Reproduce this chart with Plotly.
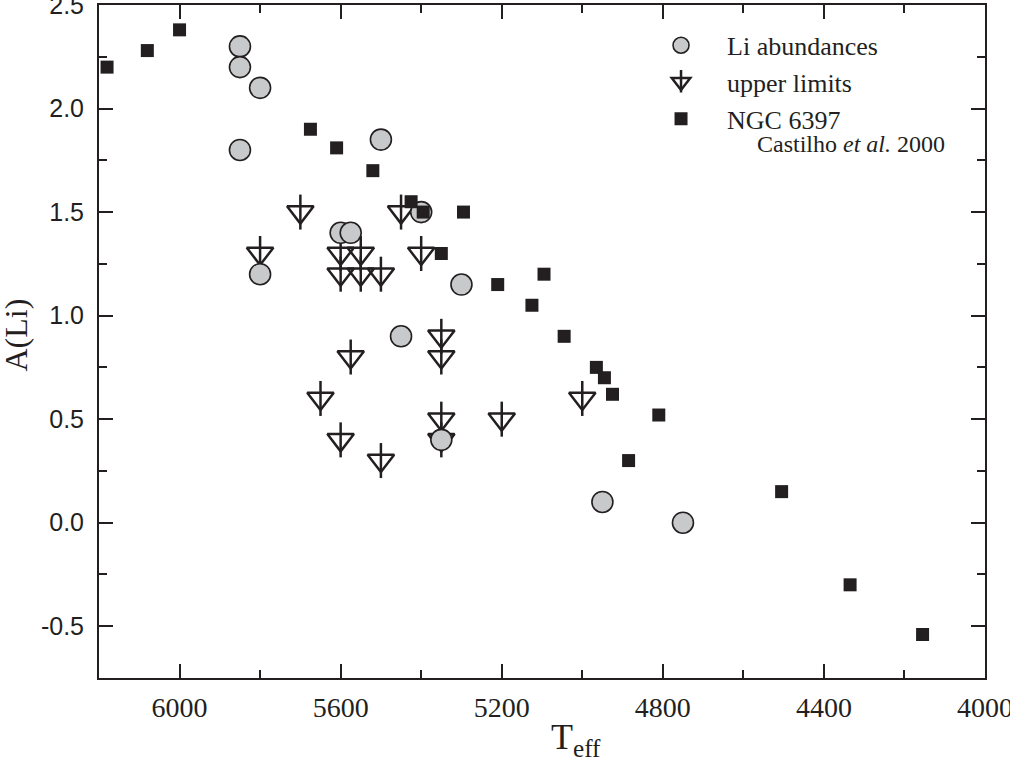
import plotly.graph_objects as go

# ---- data ----
li_T = [5850, 5850, 5800, 5850, 5800, 5600, 5575, 5500, 5400, 5450, 5300, 5350, 4950, 4750]
li_A = [2.30, 2.20, 2.10, 1.80, 1.20, 1.40, 1.40, 1.85, 1.50, 0.90, 1.15, 0.40, 0.10, 0.00]

lim_T = [5700, 5450, 5800, 5600, 5550, 5400, 5600, 5550, 5500, 5350, 5350, 5575,
         5650, 5600, 5500, 5350, 5350, 5200, 5000]
lim_A = [1.5, 1.5, 1.3, 1.3, 1.3, 1.3, 1.2, 1.2, 1.2, 0.9, 0.8, 0.8,
         0.6, 0.4, 0.3, 0.5, 0.4, 0.5, 0.6]

ngc_T = [6180, 6080, 6000, 5675, 5610, 5520, 5425, 5395, 5295, 5350, 5210, 5125,
         5095, 5045, 4965, 4945, 4925, 4885, 4810, 4505, 4335, 4155]
ngc_A = [2.20, 2.28, 2.38, 1.90, 1.81, 1.70, 1.55, 1.50, 1.50, 1.30, 1.15, 1.05,
         1.20, 0.90, 0.75, 0.70, 0.62, 0.30, 0.52, 0.15, -0.30, -0.54]

y_tickvals = [-0.5, 0.0, 0.5, 1.0, 1.5, 2.0, 2.5]
y_ticktext = ["-0.5", "0.0", "0.5", "1.0", "1.5", "2.0", "2.5"]
x_tickvals = [6000, 5600, 5200, 4800, 4400, 4000]

INK = "#231f20"
SERIF = "Liberation Serif, Times New Roman, serif"
SANS = "Liberation Sans, Arial, sans-serif"

LEG_X = 0.605
LEG_Y = 0.975
LEG_ITEMW = 82
LEG_FONT = 26

fig = go.Figure()

# upper limits: open down-triangle + vertical stem
fig.add_trace(go.Scatter(
    x=lim_T, y=lim_A, mode="markers", name="upper limits", legendrank=2,
    marker=dict(symbol="triangle-down-open", size=23, color=INK, line=dict(width=2.5, color=INK)),
))
fig.add_trace(go.Scatter(
    x=lim_T, y=lim_A, mode="markers", name=" ", legend="legend2", hoverinfo="skip",
    marker=dict(symbol="line-ns-open", size=25, color=INK, line=dict(width=2.5, color=INK)),
))
# Li abundances
fig.add_trace(go.Scatter(
    x=li_T, y=li_A, mode="markers", name="Li abundances", legendrank=1,
    marker=dict(symbol="circle", size=21, color="#c8c9cb", line=dict(width=1.6, color=INK)),
))
# NGC 6397
fig.add_trace(go.Scatter(
    x=ngc_T, y=ngc_A, mode="markers", name="NGC 6397", legendrank=3,
    marker=dict(symbol="square", size=13, color=INK, line=dict(width=0)),
))

axis_common = dict(
    showline=True, linewidth=2, linecolor=INK, mirror="allticks",
    ticks="inside", ticklen=14, tickwidth=2, tickcolor=INK,
    showgrid=False, zeroline=False, ticklabeloverflow="allow", automargin=False,
)

fig.update_xaxes(
    range=[6200, 4000], tickmode="array", tickvals=x_tickvals,
    tickfont=dict(family=SERIF, size=28, color=INK),
    minor=dict(tickmode="linear", tick0=0, dtick=200, ticks="inside", ticklen=8, tickwidth=2, tickcolor=INK),
    ticklabelstandoff=3,
    **axis_common,
)
fig.update_yaxes(
    range=[-0.75, 2.5], tickmode="array", tickvals=y_tickvals, ticktext=y_ticktext,
    tickfont=dict(family=SANS, size=25, color=INK),
    minor=dict(tickmode="linear", tick0=0, dtick=0.25, ticks="inside", ticklen=8, tickwidth=2, tickcolor=INK),
    ticklabelstandoff=8,
    **axis_common,
)

fig.add_annotation(
    text="T<sub>eff</sub>", xref="paper", yref="paper", x=0.538, y=-0.055,
    xanchor="center", yanchor="top", showarrow=False,
    font=dict(family=SERIF, size=36, color=INK),
)
fig.add_annotation(
    text="A(Li)", xref="paper", yref="paper", x=-0.094, y=0.51,
    xanchor="center", yanchor="middle", textangle=-90, showarrow=False,
    font=dict(family=SERIF, size=32, color=INK),
)
fig.add_annotation(
    text="Castilho <i>et al.</i> 2000", xref="paper", yref="paper", x=0.957, y=0.793,
    xanchor="right", yanchor="middle", showarrow=False,
    font=dict(family=SERIF, size=24, color=INK),
)

leg_common = dict(
    x=LEG_X, xanchor="left", yanchor="top",
    bgcolor="rgba(0,0,0,0)", borderwidth=0,
    itemwidth=LEG_ITEMW, tracegroupgap=0,
)

fig.update_layout(
    width=1010, height=766,
    margin=dict(l=99, r=25, t=5, b=88, autoexpand=False),
    paper_bgcolor="white", plot_bgcolor="white",
    showlegend=True,
    legend=dict(y=LEG_Y, font=dict(family=SERIF, size=LEG_FONT, color=INK), **leg_common),
    legend2=dict(y=LEG_Y - 36 / 673, font=dict(family=SERIF, size=LEG_FONT, color="rgba(0,0,0,0)"), **leg_common),
)

fig.write_html("out.html", config={"displayModeBar": False},
               post_script="document.body.style.margin='0px';")
